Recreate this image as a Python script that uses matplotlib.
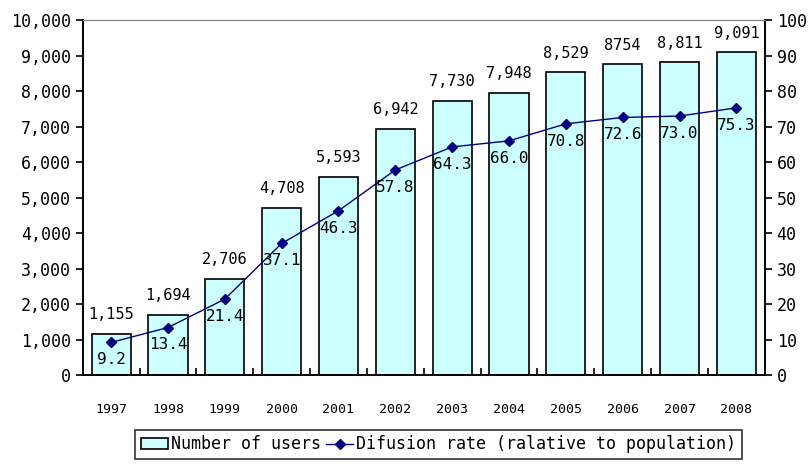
import numpy as np
import matplotlib.pyplot as plt

plt.rcParams['font.family'] = ['DejaVu Sans Mono', 'DejaVu Sans']

years = ['1997', '1998', '1999', '2000', '2001', '2002', '2003', '2004', '2005', '2006', '2007', '2008']
users = [1155, 1694, 2706, 4708, 5593, 6942, 7730, 7948, 8529, 8754, 8811, 9091]
user_labels = ['1,155', '1,694', '2,706', '4,708', '5,593', '6,942', '7,730', '7,948', '8,529', '8754', '8,811', '9,091']
rate = [9.2, 13.4, 21.4, 37.1, 46.3, 57.8, 64.3, 66.0, 70.8, 72.6, 73.0, 75.3]

fig = plt.figure(figsize=(8.11, 4.70), dpi=100)
ax = fig.add_axes([0.102, 0.202, 0.841, 0.755])
x = np.arange(len(years))

bars = ax.bar(x, users, width=0.69, color='#ccffff', edgecolor='black', linewidth=1.2,
              label='Number of users', zorder=2)
ax.set_xlim(-0.5, len(years) - 0.5)
ax.set_ylim(0, 10000)
ax.set_yticks(np.arange(0, 10001, 1000))
ax.set_yticklabels([f'{v:,}' for v in range(0, 10001, 1000)], fontsize=12)
ax.set_xticks(x)
ax.set_xticklabels(years, fontsize=9.5)
ax.tick_params(axis='x', length=0, pad=20)
ax.set_xticks(np.arange(0.5, len(years) - 0.5, 1), minor=True)
ax.tick_params(axis='x', which='minor', direction='in', length=5, width=1.2)
ax.tick_params(axis='y', direction='out', length=5, width=1.2)

for xi, v, lab in zip(x, users, user_labels):
    ax.text(xi, v + 330, lab, ha='center', va='bottom', fontsize=11)

ax2 = ax.twinx()
ax2.set_ylim(0, 100)
ax2.set_yticks(np.arange(0, 101, 10))
ax2.tick_params(axis='y', direction='out', length=5, width=1.2, labelsize=12)
line, = ax2.plot(x, rate, color='#000080', marker='D', markersize=5, linewidth=1,
                 label='Difusion rate (ralative to population)', zorder=3)
for xi, r in zip(x, rate):
    ax2.text(xi, r - 2.8, f'{r:.1f}', ha='center', va='top', fontsize=11.5)

for a in (ax, ax2):
    a.spines['top'].set_color('#808080')
    a.spines['left'].set_linewidth(1.2)
    a.spines['right'].set_linewidth(1.2)
    a.spines['bottom'].set_linewidth(1.2)

leg = fig.legend([bars, line], ['Number of users', 'Difusion rate (ralative to population)'],
                 loc='lower center', bbox_to_anchor=(0.541, 0.005), ncol=2, frameon=True,
                 fancybox=False, edgecolor='black', fontsize=12, handlelength=1.6,
                 handletextpad=0.2, columnspacing=0.3, borderpad=0.35)
leg.get_frame().set_linewidth(1.2)

fig.savefig('out.png', dpi=100)
